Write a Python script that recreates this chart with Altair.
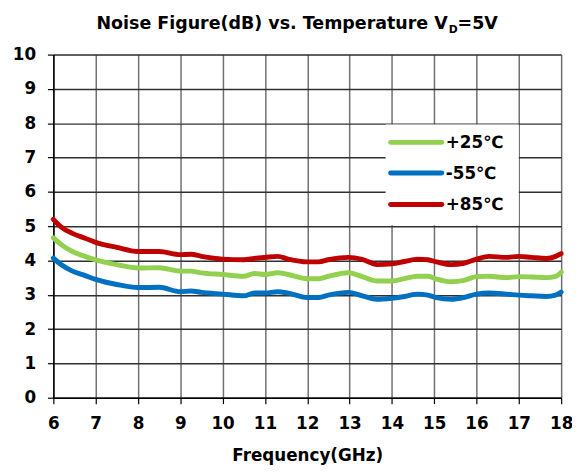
import altair as alt
import pandas as pd

freq = [6.0, 6.18, 6.45, 6.75, 7.0, 7.5, 8.0, 8.5, 9.0, 9.25, 9.5, 10.0, 10.5, 10.75,
        11.0, 11.3, 11.55, 12.0, 12.27, 12.5, 12.97, 13.3, 13.65, 14.0, 14.3, 14.6,
        14.85, 15.05, 15.4, 15.7, 16.0, 16.3, 16.7, 17.0, 17.3, 17.65, 17.87, 18.0]

nf_p25 = [4.66, 4.47, 4.26, 4.12, 4.02, 3.88, 3.78, 3.79, 3.69, 3.69, 3.64, 3.59, 3.54, 3.62,
          3.59, 3.64, 3.59, 3.47, 3.47, 3.54, 3.64, 3.53, 3.40, 3.40, 3.47, 3.54,
          3.54, 3.46, 3.38, 3.42, 3.53, 3.54, 3.50, 3.53, 3.52, 3.50, 3.54, 3.66]

nf_m55 = [4.07, 3.88, 3.69, 3.56, 3.45, 3.30, 3.21, 3.22, 3.09, 3.11, 3.07, 3.02, 2.97, 3.05,
          3.05, 3.09, 3.05, 2.92, 2.92, 2.99, 3.07, 2.97, 2.87, 2.90, 2.95, 3.02,
          2.99, 2.92, 2.87, 2.92, 3.02, 3.05, 3.02, 2.99, 2.97, 2.95, 2.99, 3.08]

nf_p85 = [5.20, 4.98, 4.79, 4.65, 4.53, 4.38, 4.26, 4.26, 4.17, 4.18, 4.12, 4.04, 4.02, 4.06,
          4.09, 4.12, 4.04, 3.96, 3.96, 4.02, 4.09, 4.03, 3.88, 3.90, 3.97, 4.04,
          4.02, 3.96, 3.88, 3.92, 4.04, 4.12, 4.09, 4.12, 4.09, 4.06, 4.12, 4.20]

series_names = ["+25\u2103", "-55\u2103", "+85\u2103"]
series_colors = ["#92D050", "#0070C0", "#C00000"]

x_ticks = [6 + 0.5 * i for i in range(25)]
y_ticks = [0.5 * i for i in range(21)]

rows = []
for name, vals in zip(series_names, [nf_p25, nf_m55, nf_p85]):
    for f, v in zip(freq, vals):
        rows.append({"freq": f, "nf": v, "temp": name})
df = pd.DataFrame(rows)
one = pd.DataFrame({"k": [0]})

FONT = "DejaVu Sans"
W, H = 515, 348
IS_INT = "datum.value % 1 === 0"

x_axis = alt.Axis(
    values=x_ticks, title="Frequency(GHz)", format="d",
    labelExpr="datum.value % 1 === 0 ? datum.label : ''",
    labelFont=FONT, labelFontSize=17, labelFontWeight="bold", labelColor="#000",
    labelPadding=12, labelFlush=False, labelOverlap=False,
    titleFont=FONT, titleFontSize=17, titleFontWeight="bold", titleColor="#000",
    titlePadding=17,
    domainColor="#000", domainWidth=1.5,
    tickColor="#000", tickSize=6, tickWidth=1.2,
    grid=True,
    gridColor={"condition": {"test": IS_INT, "value": "#707070"}, "value": "#b8b8b8"},
    gridDash={"condition": {"test": IS_INT, "value": []}, "value": [2, 2]},
    gridWidth={"condition": {"test": IS_INT, "value": 1.5}, "value": 1},
)

y_axis = alt.Axis(
    values=y_ticks, title=None, format="d",
    labelExpr="datum.value % 1 === 0 ? datum.label : ''",
    labelFont=FONT, labelFontSize=17, labelFontWeight="bold", labelColor="#000",
    labelPadding=12, labelOverlap=False, labelFlush=False,
    domainColor="#000", domainWidth=1.5,
    tickColor="#000", tickSize=6, tickWidth=1.2,
    tickOpacity={"condition": {"test": IS_INT, "value": 1}, "value": 0},
    grid=True,
    gridColor={"condition": {"test": IS_INT, "value": "#303030"}, "value": "#c4c4c4"},
    gridWidth={"condition": {"test": IS_INT, "value": 1.5}, "value": 1.2},
)

lines = alt.Chart(df).mark_line(strokeWidth=5, interpolate="monotone", strokeCap="round").encode(
    x=alt.X("freq:Q", scale=alt.Scale(domain=[6, 18], nice=False, zero=False), axis=x_axis),
    y=alt.Y("nf:Q", scale=alt.Scale(domain=[0, 10], nice=False), axis=y_axis),
    color=alt.Color("temp:N", scale=alt.Scale(domain=series_names, range=series_colors), legend=None),
    detail="temp:N",
)

box = alt.Chart(one).mark_rect(fill="white").encode(
    x=alt.value(337), x2=alt.value(472), y=alt.value(71), y2=alt.value(173)
)

legend_layers = []
legend_y = [89, 120, 152]
for name, col, ly in zip(series_names, series_colors, legend_y):
    legend_layers.append(
        alt.Chart(one).mark_rule(color=col, strokeWidth=5, strokeCap="round").encode(
            x=alt.value(342), x2=alt.value(394), y=alt.value(ly)
        )
    )
    legend_layers.append(
        alt.Chart(one).mark_text(
            text=name, align="left", baseline="middle",
            font=FONT, fontSize=17, fontWeight="bold", color="#000"
        ).encode(x=alt.value(398), y=alt.value(ly + 1))
    )

title_main = alt.Chart(one).mark_text(
    text="Noise Figure(dB) vs. Temperature V", align="right", baseline="alphabetic",
    font=FONT, fontSize=17.7, fontWeight="bold", color="#000"
).encode(x=alt.value(400), y=alt.value(-26))

title_sub = alt.Chart(one).mark_text(
    text="D", align="left", baseline="alphabetic",
    font=FONT, fontSize=11, fontWeight="bold", color="#000"
).encode(x=alt.value(401), y=alt.value(-22))

title_end = alt.Chart(one).mark_text(
    text="=5V", align="left", baseline="alphabetic",
    font=FONT, fontSize=17.7, fontWeight="bold", color="#000"
).encode(x=alt.value(410), y=alt.value(-26))

chart = alt.layer(box, lines, *legend_layers, title_main, title_sub, title_end).properties(
    width=W, height=H,
    autosize=alt.AutoSizeParams(type="none"),
    padding={"left": 46, "top": 44, "right": 11, "bottom": 68},
).configure_view(stroke="#000", strokeWidth=1.5).configure(background="white")

chart.save("out.html", embed_options={"renderer": "svg", "actions": False})
